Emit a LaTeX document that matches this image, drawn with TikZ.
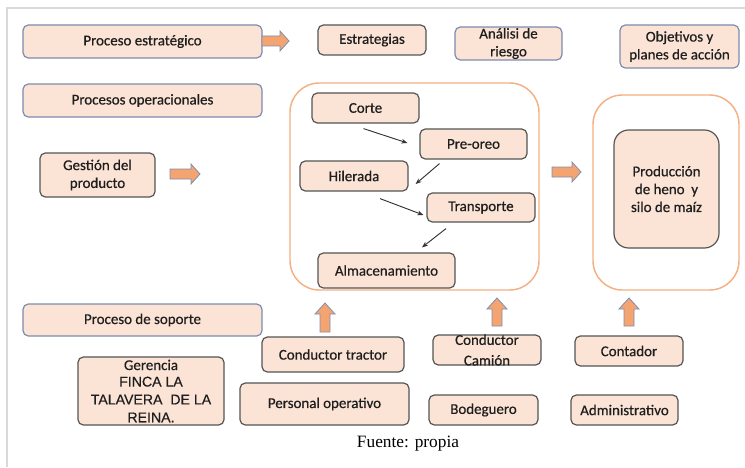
\documentclass[tikz,border=0pt]{standalone}
\usepackage{fontspec}
\setmainfont{Carlito}[FakeBold=0.5]
\newfontfamily\arialf{Liberation Sans}[FakeBold=0.4]
\newfontfamily\timesf{Liberation Serif}
\usetikzlibrary{fit,calc,arrows.meta}
\definecolor{peach}{HTML}{FBE3D5}
\definecolor{bluegray}{HTML}{7C8CB0}
\definecolor{darkb}{HTML}{555555}
\definecolor{orangeb}{HTML}{F4B183}
\definecolor{arrowf}{HTML}{F4A470}
\definecolor{arroww}{HTML}{7F8FB0}
\definecolor{txt}{HTML}{1E1E1E}
\definecolor{framec}{HTML}{DADADA}
\newcommand\fincaf{\arialf\fontsize{10.6}{12.75}\selectfont}
\tikzset{
 box/.style={draw, fill=peach, rounded corners=4pt, line width=0.9pt, inner sep=0pt},
 bluebox/.style={box, draw=bluegray},
 darkbox/.style={box, draw=darkb},
 prodbox/.style={box, draw=darkb, rounded corners=11pt},
 container/.style={draw=orangeb, fill=white, line width=1.1pt, rounded corners=22pt, inner sep=0pt},
 lbl/.style={text=txt, align=center, font=\fontsize{11.2}{13.4}\selectfont, inner sep=0pt},
 flow/.style={-{Stealth[length=4.5pt,width=3.5pt]}, line width=0.7pt, draw=black!80},
 barrow/.style={fill=arrowf, draw=arroww, line width=0.6pt, line join=miter},
}
\newcommand\bx[7]{%
  \node[#6, fit={(#2,#3) (#4,#5)}] (#1) {};
  \node[lbl] (#1-t) at (#1.center) {#7};}
\newcommand\harr[3]{%
  \draw[barrow] (#1,#3-5) -- (#2-9,#3-5) -- (#2-9,#3-10) -- (#2,#3) -- (#2-9,#3+10) -- (#2-9,#3+5) -- (#1,#3+5) -- cycle;}
\newcommand\uarr[3]{%
  \draw[barrow] (#1-5,#2) -- (#1-5,#3+11) -- (#1-10,#3+11) -- (#1,#3) -- (#1+10,#3+11) -- (#1+5,#3+11) -- (#1+5,#2) -- cycle;}
\begin{document}
\begin{tikzpicture}[x=0.75pt,y=-0.75pt]
\useasboundingbox (0,0) rectangle (745,467);
\fill[white] (0,0) rectangle (745,467);
\draw[framec, line width=1pt] (7,467) -- (7,8) -- (745,8);

% top row
\bx{pe}{23}{25}{262}{58}{bluebox}{Proceso estratégico}
\bx{estr}{318}{25}{426}{55}{darkbox}{Estrategias}
\bx{riesgo}{455}{27}{562}{60}{bluebox}{Análisi de\\riesgo}
\bx{obj}{620}{25}{739}{68}{bluebox}{Objetivos y\\planes de acción}
\harr{262}{289}{41}

% operational
\bx{po}{23}{84}{262}{117}{bluebox}{Procesos operacionales}
\bx{gp}{40}{153}{155}{197}{darkbox}{Gestión del\\producto}
\harr{170}{200}{174}

\node[container, fit={(290,83) (539,290)}] (c1) {};
\bx{corte}{312}{93}{419}{123}{darkbox}{Corte}
\bx{preoreo}{420}{129}{527}{159}{darkbox}{Pre-oreo}
\bx{hil}{300}{161}{408}{191}{darkbox}{Hilerada}
\bx{trans}{427}{193}{535}{222}{darkbox}{Transporte}
\bx{alm}{318}{253}{455}{288}{darkbox}{Almacenamiento}

\draw[flow] ($(corte.south)+(-2,5)$) -- ($(preoreo.west)+(-12,-1)$);
\draw[flow] ($(preoreo.south)+(-34,4)$) -- ($(hil.east)+(7,8)$);
\draw[flow] ($(hil.south)+(26,7)$) -- ($(trans.west)+(-3,7.5)$);
\draw[flow] ($(trans.south)+(-35,6)$) -- ($(alm.north)+(35.5,-5)$);

\harr{552}{581}{172}
\node[container, fit={(593,95) (739,290)}] (c2) {};
\bx{prod}{614}{130}{719}{248}{prodbox}{Producción\\de heno\ \ y\\silo de maíz}

% support
\bx{ps}{23}{304}{262}{336}{bluebox}{Proceso de soporte}
\uarr{325}{332}{303}
\uarr{497}{326}{298}
\uarr{629}{326}{298}
\bx{ct}{262}{337}{404}{372}{darkbox}{Conductor tractor}
\bx{pop}{240}{383}{409}{425}{darkbox}{Personal operativo}
\bx{ger}{78}{357}{224}{425}{darkbox}{Gerencia\\[-1pt]{\fincaf FINCA LA}\\{\fincaf TALAVERA\ \ DE LA}\\{\fincaf REINA.}}
\bx{cc}{433}{335}{541}{365}{darkbox}{Conductor\\[2pt]Camión}
\bx{cont}{575}{336}{683}{366}{darkbox}{Contador}
\bx{bod}{429}{395}{538}{425}{darkbox}{Bodeguero}
\bx{adm}{571}{395}{678}{425}{darkbox}{Administrativo}

\node[text=black, inner sep=0pt, font=\timesf\fontsize{13}{15}\selectfont] (src) at (408,444) {Fuente: propia};
\end{tikzpicture}
\end{document}
